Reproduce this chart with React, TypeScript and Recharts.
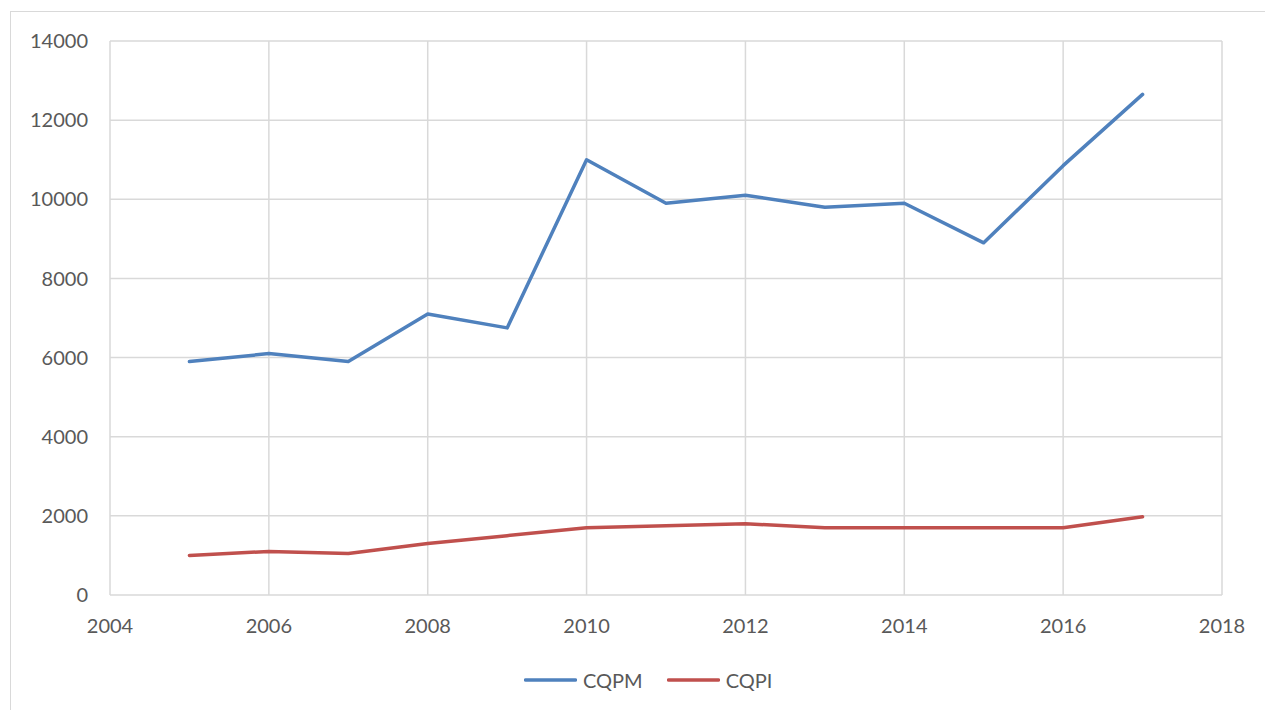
import { LineChart, Line, XAxis, YAxis, CartesianGrid, Legend } from 'recharts';

// Years on the x axis
const years = [2005, 2006, 2007, 2008, 2009, 2010, 2011, 2012, 2013, 2014, 2015, 2016, 2017];

// Series values
const cqpm = [5900, 6100, 5900, 7100, 6750, 11000, 9900, 10100, 9800, 9900, 8900, 10850, 12650];
const cqpi = [1000, 1100, 1050, 1300, 1500, 1700, 1750, 1800, 1700, 1700, 1700, 1700, 1975];

// Axis ticks
const xTicks = [2004, 2006, 2008, 2010, 2012, 2014, 2016, 2018];
const yTicks = [0, 2000, 4000, 6000, 8000, 10000, 12000, 14000];

const SERIES = [
    { key: 'CQPM', color: '#4f81bd' },
    { key: 'CQPI', color: '#c0504d' },
];

const data = years.map((year, i) => ({ year, CQPM: cqpm[i], CQPI: cqpi[i] }));

const FONT = 'Lato, "Open Sans", sans-serif';
const TEXT_COLOR = '#595959';
const GRID_COLOR = '#d9d9d9';

// Legend keeps the series order (recharts sorts entries by name otherwise)
const CustomLegend = ({ payload }: any) => {
    if (!payload) return null;
    const ordered = SERIES.map((s) => payload.find((p: any) => p.value === s.key)).filter(Boolean);
    return (
        <div style={{ height: 40, display: 'flex', alignItems: 'center', paddingLeft: 513, fontFamily: FONT, fontSize: 20, color: TEXT_COLOR }}>
            {ordered.map((entry: any, index: number) => (
                <div key={index} style={{ display: 'flex', alignItems: 'center', marginRight: 24 }}>
                    <svg width={53} height={6} style={{ marginRight: 6 }}>
                        <line x1={1.5} y1={3} x2={51.5} y2={3} stroke={entry.color} strokeWidth={3.5} strokeLinecap="round" />
                    </svg>
                    <span>{entry.value}</span>
                </div>
            ))}
        </div>
    );
};

export default function App() {
    return (
        <div
            style={{
                position: 'absolute',
                left: 10,
                top: 11,
                width: 1254,
                height: 698,
                borderLeft: `1px solid ${GRID_COLOR}`,
                borderTop: `1px solid ${GRID_COLOR}`,
                background: '#fff',
            }}
        >
            <LineChart
                width={1254}
                height={698}
                data={data}
                margin={{ top: 29, right: 43, left: 0, bottom: 10 }}
            >
                <CartesianGrid stroke={GRID_COLOR} strokeWidth={1.5} />
                <XAxis
                    dataKey="year"
                    type="number"
                    domain={[2004, 2018]}
                    ticks={xTicks}
                    axisLine={false}
                    tickLine={false}
                    tickMargin={18}
                    height={65}
                    tick={{ fontSize: 20, fill: TEXT_COLOR, fontFamily: FONT }}
                />
                <YAxis
                    type="number"
                    domain={[0, 14000]}
                    ticks={yTicks}
                    axisLine={false}
                    tickLine={false}
                    tickMargin={16}
                    width={99}
                    tick={{ fontSize: 20, fill: TEXT_COLOR, fontFamily: FONT }}
                />
                <Legend verticalAlign="bottom" content={<CustomLegend />} />
                {SERIES.map((s) => (
                    <Line
                        key={s.key}
                        type="linear"
                        dataKey={s.key}
                        name={s.key}
                        stroke={s.color}
                        strokeWidth={3.5}
                        strokeLinecap="round"
                        strokeLinejoin="round"
                        dot={false}
                        activeDot={false}
                        isAnimationActive={false}
                    />
                ))}
            </LineChart>
        </div>
    );
}
